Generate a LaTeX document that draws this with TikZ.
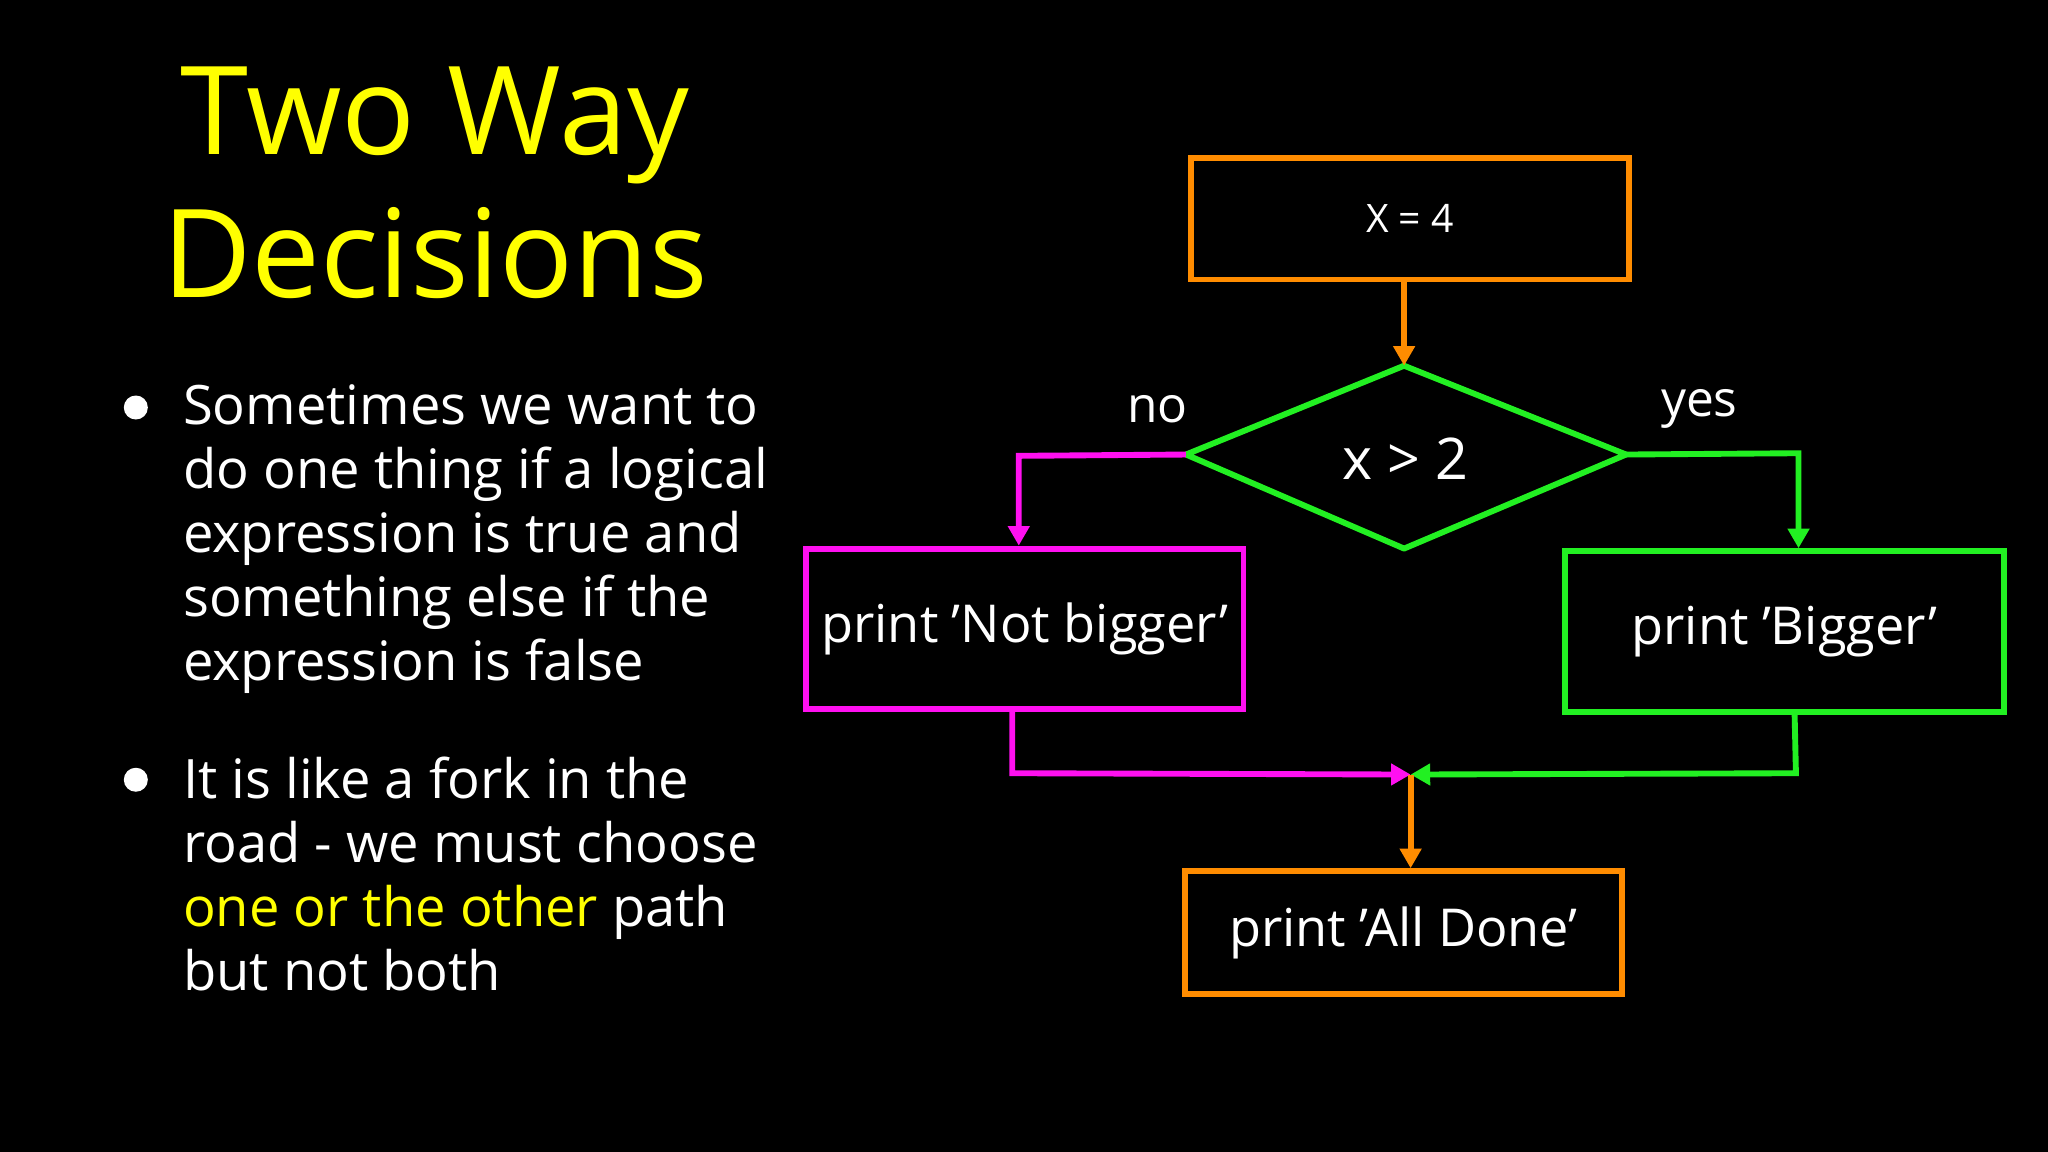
\documentclass[tikz,border=0pt]{standalone}
\usepackage{fontspec}
\setmainfont{Open Sans}[Ligatures=ResetAll]
\usetikzlibrary{arrows.meta}
\definecolor{org}{HTML}{FF8C00}
\definecolor{grn}{HTML}{22F022}
\definecolor{mag}{HTML}{FF10F0}
\definecolor{yel}{HTML}{FFFF00}
\newcommand\sq{\char39\relax}
\begin{document}
\begin{tikzpicture}[x=1pt,y=-1pt,
  box/.style={draw=#1,line width=4.5pt,inner sep=0pt,text=white},
  conn/.style={draw=#1,line width=4.5pt,-{Triangle[length=15pt,width=16pt]}},
  bt/.style={text=white,font=\fontsize{41.6}{49}\selectfont,anchor=north west,align=left,inner sep=0pt}]
\useasboundingbox[fill=black] (0,0) rectangle (1568,882);
\node[text=yel,font=\fontsize{94}{110}\selectfont,align=center] (title) at (333,140) {Two Way\\Decisions};
\node[fill=white,circle,inner sep=6.5pt] (b1) at (104,312) {};
\node[bt] (t1) at (140,294) {Sometimes we want to\\do one thing if a logical\\expression is true and\\something else if the\\expression is false};
\node[fill=white,circle,inner sep=6.5pt] (b2) at (104,597) {};
\node[bt] (t2) at (140,579) {It is like a fork in the\\road - we must choose\\\textcolor{yel}{one or the other} path\\but not both};
% flowchart
\node[box=org,minimum width=335pt,minimum height=93pt,font=\fontsize{30}{32}\selectfont] (x4) at (1079.5,167.5) {X = 4};
\coordinate (dl) at (908,348); \coordinate (dt) at (1075,280);
\coordinate (dr) at (1245,348); \coordinate (db) at (1075,420);
\draw[grn,line width=4.5pt,line join=round] (dl)--(dt)--(dr)--(db)--cycle;
\node[text=white,font=\fontsize{44}{46}\selectfont] (cond) at (1076,351) {x > 2};
\node[text=white,font=\fontsize{38}{40}\selectfont] (no) at (886,313) {no};
\node[text=white,font=\fontsize{38}{40}\selectfont] (yes) at (1301,313) {yes};
\node[box=mag,minimum width=335pt,minimum height=123pt,font=\fontsize{40}{42}\selectfont] (nb) at (784.5,481.5) {print \sq Not bigger\sq};
\node[box=grn,minimum width=336pt,minimum height=123pt,font=\fontsize{40}{42}\selectfont] (bg) at (1366,483.5) {print \sq Bigger\sq};
\node[box=org,minimum width=335pt,minimum height=94pt,font=\fontsize{40}{42}\selectfont] (ad) at (1074.5,714) {print \sq All Done\sq};
\coordinate (j) at (1080,593);
\draw[conn=org] (x4.south -| dt) -- (dt);
\draw[conn=mag] (dl) -- (780,349) -- (nb.north -| 780,0);
\draw[conn=grn] (dr) -- (1377,347) -- (bg.north -| 1377,0);
\draw[conn=mag] (nb.south -| 775,0) -- (775,592) -- (j);
\draw[conn=grn] (bg.south -| 1374,0) -- (1375,592) -- (j);
\draw[conn=org] (j) -- (ad.north -| j);
\end{tikzpicture}
\end{document}
